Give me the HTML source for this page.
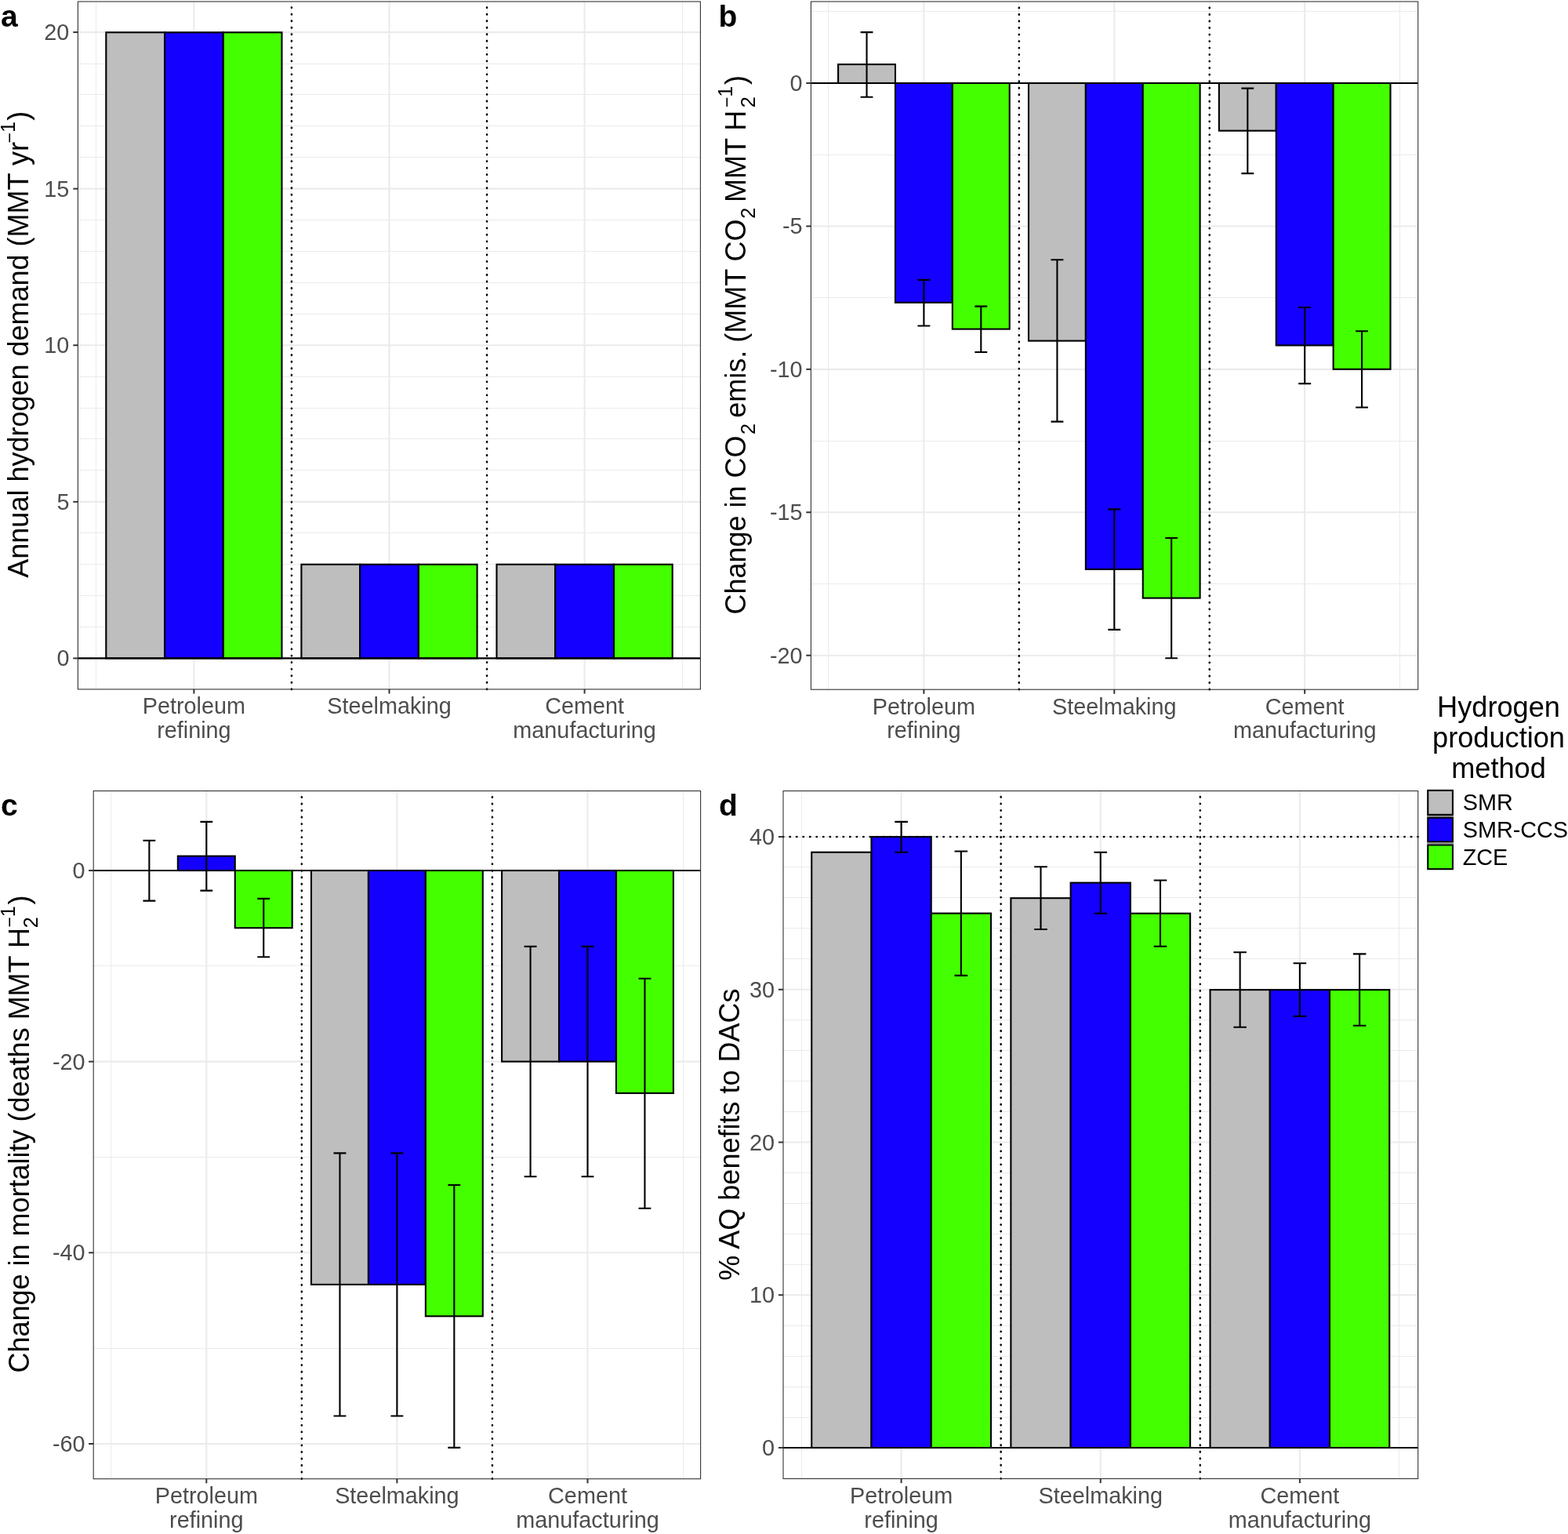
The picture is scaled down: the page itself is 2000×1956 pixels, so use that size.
<!DOCTYPE html><html><head><meta charset="utf-8"><title>Figure</title><style>html,body{margin:0;padding:0;background:#fff;}svg{display:block;}</style></head><body>
<svg width="2000" height="1956" viewBox="0 0 2000 1956" font-family="Liberation Sans, Arial, Helvetica, sans-serif">
<rect width="2000" height="1956" fill="#FFFFFF"/>
<g>
<rect x="99.4" y="2" width="794" height="876.9" fill="#FFFFFF"/>
<line x1="99.4" x2="893.4" y1="799.5" y2="799.5" stroke="#EBEBEB" stroke-width="1.05"/>
<line x1="99.4" x2="893.4" y1="759.5" y2="759.5" stroke="#EBEBEB" stroke-width="1.05"/>
<line x1="99.4" x2="893.4" y1="719.5" y2="719.5" stroke="#EBEBEB" stroke-width="1.05"/>
<line x1="99.4" x2="893.4" y1="679.5" y2="679.5" stroke="#EBEBEB" stroke-width="1.05"/>
<line x1="99.4" x2="893.4" y1="599.5" y2="599.5" stroke="#EBEBEB" stroke-width="1.05"/>
<line x1="99.4" x2="893.4" y1="559.5" y2="559.5" stroke="#EBEBEB" stroke-width="1.05"/>
<line x1="99.4" x2="893.4" y1="520.5" y2="520.5" stroke="#EBEBEB" stroke-width="1.05"/>
<line x1="99.4" x2="893.4" y1="480.5" y2="480.5" stroke="#EBEBEB" stroke-width="1.05"/>
<line x1="99.4" x2="893.4" y1="400.5" y2="400.5" stroke="#EBEBEB" stroke-width="1.05"/>
<line x1="99.4" x2="893.4" y1="360.5" y2="360.5" stroke="#EBEBEB" stroke-width="1.05"/>
<line x1="99.4" x2="893.4" y1="320.5" y2="320.5" stroke="#EBEBEB" stroke-width="1.05"/>
<line x1="99.4" x2="893.4" y1="280.5" y2="280.5" stroke="#EBEBEB" stroke-width="1.05"/>
<line x1="99.4" x2="893.4" y1="200.5" y2="200.5" stroke="#EBEBEB" stroke-width="1.05"/>
<line x1="99.4" x2="893.4" y1="160.5" y2="160.5" stroke="#EBEBEB" stroke-width="1.05"/>
<line x1="99.4" x2="893.4" y1="120.5" y2="120.5" stroke="#EBEBEB" stroke-width="1.05"/>
<line x1="99.4" x2="893.4" y1="81.5" y2="81.5" stroke="#EBEBEB" stroke-width="1.05"/>
<line x1="122.5" x2="122.5" y1="2" y2="878.9" stroke="#EBEBEB" stroke-width="1.05"/>
<line x1="371.5" x2="371.5" y1="2" y2="878.9" stroke="#EBEBEB" stroke-width="1.05"/>
<line x1="621.5" x2="621.5" y1="2" y2="878.9" stroke="#EBEBEB" stroke-width="1.05"/>
<line x1="870.5" x2="870.5" y1="2" y2="878.9" stroke="#EBEBEB" stroke-width="1.05"/>
<line x1="99.4" x2="893.4" y1="839.4" y2="839.4" stroke="#EBEBEB" stroke-width="2.1"/>
<line x1="99.4" x2="893.4" y1="639.83" y2="639.83" stroke="#EBEBEB" stroke-width="2.1"/>
<line x1="99.4" x2="893.4" y1="440.25" y2="440.25" stroke="#EBEBEB" stroke-width="2.1"/>
<line x1="99.4" x2="893.4" y1="240.67" y2="240.67" stroke="#EBEBEB" stroke-width="2.1"/>
<line x1="99.4" x2="893.4" y1="41.1" y2="41.1" stroke="#EBEBEB" stroke-width="2.1"/>
<line x1="247.4" x2="247.4" y1="2" y2="878.9" stroke="#EBEBEB" stroke-width="2.1"/>
<line x1="496.5" x2="496.5" y1="2" y2="878.9" stroke="#EBEBEB" stroke-width="2.1"/>
<line x1="745.6" x2="745.6" y1="2" y2="878.9" stroke="#EBEBEB" stroke-width="2.1"/>
<line x1="371.95" x2="371.95" y1="878.9" y2="2" stroke="#000" stroke-width="2.6" stroke-dasharray="0.3 8.22" stroke-linecap="round"/>
<line x1="621.05" x2="621.05" y1="878.9" y2="2" stroke="#000" stroke-width="2.6" stroke-dasharray="0.3 8.22" stroke-linecap="round"/>
<rect x="135.31" y="41.3" width="74.73" height="798.1" fill="#BEBEBE" stroke="#000" stroke-width="2.1"/>
<rect x="210.04" y="41.3" width="74.73" height="798.1" fill="#1400FF" stroke="#000" stroke-width="2.1"/>
<rect x="284.76" y="41.3" width="74.73" height="798.1" fill="#44FF00" stroke="#000" stroke-width="2.1"/>
<rect x="384.4" y="719.7" width="74.73" height="119.7" fill="#BEBEBE" stroke="#000" stroke-width="2.1"/>
<rect x="459.13" y="719.7" width="74.73" height="119.7" fill="#1400FF" stroke="#000" stroke-width="2.1"/>
<rect x="533.87" y="719.7" width="74.73" height="119.7" fill="#44FF00" stroke="#000" stroke-width="2.1"/>
<rect x="633.5" y="719.7" width="74.73" height="119.7" fill="#BEBEBE" stroke="#000" stroke-width="2.1"/>
<rect x="708.24" y="719.7" width="74.73" height="119.7" fill="#1400FF" stroke="#000" stroke-width="2.1"/>
<rect x="782.97" y="719.7" width="74.73" height="119.7" fill="#44FF00" stroke="#000" stroke-width="2.1"/>
<line x1="99.4" x2="893.4" y1="839.4" y2="839.4" stroke="#000" stroke-width="2.1"/>
<rect x="99.4" y="2" width="794" height="876.9" fill="none" stroke="#333333" stroke-width="1.1"/>
<line x1="93.3" x2="99.4" y1="839.4" y2="839.4" stroke="#333333" stroke-width="2"/>
<text x="88.4" y="849.4" text-anchor="end" font-size="28.8" fill="#4D4D4D">0</text>
<line x1="93.3" x2="99.4" y1="639.83" y2="639.83" stroke="#333333" stroke-width="2"/>
<text x="88.4" y="649.83" text-anchor="end" font-size="28.8" fill="#4D4D4D">5</text>
<line x1="93.3" x2="99.4" y1="440.25" y2="440.25" stroke="#333333" stroke-width="2"/>
<text x="88.4" y="450.25" text-anchor="end" font-size="28.8" fill="#4D4D4D">10</text>
<line x1="93.3" x2="99.4" y1="240.67" y2="240.67" stroke="#333333" stroke-width="2"/>
<text x="88.4" y="250.67" text-anchor="end" font-size="28.8" fill="#4D4D4D">15</text>
<line x1="93.3" x2="99.4" y1="41.1" y2="41.1" stroke="#333333" stroke-width="2"/>
<text x="88.4" y="51.1" text-anchor="end" font-size="28.8" fill="#4D4D4D">20</text>
<line x1="247.4" x2="247.4" y1="878.9" y2="884.5" stroke="#333333" stroke-width="2"/>
<text x="247.4" y="910.2" text-anchor="middle" font-size="28.8" fill="#4D4D4D">Petroleum</text>
<text x="247.4" y="941.1" text-anchor="middle" font-size="28.8" fill="#4D4D4D">refining</text>
<line x1="496.5" x2="496.5" y1="878.9" y2="884.5" stroke="#333333" stroke-width="2"/>
<text x="496.5" y="910.2" text-anchor="middle" font-size="28.8" fill="#4D4D4D">Steelmaking</text>
<line x1="745.6" x2="745.6" y1="878.9" y2="884.5" stroke="#333333" stroke-width="2"/>
<text x="745.6" y="910.2" text-anchor="middle" font-size="28.8" fill="#4D4D4D">Cement</text>
<text x="745.6" y="941.1" text-anchor="middle" font-size="28.8" fill="#4D4D4D">manufacturing</text>
</g>
<g>
<rect x="1034.4" y="2" width="774.3" height="877.2" fill="#FFFFFF"/>
<line x1="1034.4" x2="1808.7" y1="14.5" y2="14.5" stroke="#EBEBEB" stroke-width="1.05"/>
<line x1="1034.4" x2="1808.7" y1="197.5" y2="197.5" stroke="#EBEBEB" stroke-width="1.05"/>
<line x1="1034.4" x2="1808.7" y1="379.5" y2="379.5" stroke="#EBEBEB" stroke-width="1.05"/>
<line x1="1034.4" x2="1808.7" y1="562.5" y2="562.5" stroke="#EBEBEB" stroke-width="1.05"/>
<line x1="1034.4" x2="1808.7" y1="744.5" y2="744.5" stroke="#EBEBEB" stroke-width="1.05"/>
<line x1="1056.5" x2="1056.5" y1="2" y2="879.2" stroke="#EBEBEB" stroke-width="1.05"/>
<line x1="1299.5" x2="1299.5" y1="2" y2="879.2" stroke="#EBEBEB" stroke-width="1.05"/>
<line x1="1542.5" x2="1542.5" y1="2" y2="879.2" stroke="#EBEBEB" stroke-width="1.05"/>
<line x1="1785.5" x2="1785.5" y1="2" y2="879.2" stroke="#EBEBEB" stroke-width="1.05"/>
<line x1="1034.4" x2="1808.7" y1="106" y2="106" stroke="#EBEBEB" stroke-width="2.1"/>
<line x1="1034.4" x2="1808.7" y1="288.43" y2="288.43" stroke="#EBEBEB" stroke-width="2.1"/>
<line x1="1034.4" x2="1808.7" y1="470.85" y2="470.85" stroke="#EBEBEB" stroke-width="2.1"/>
<line x1="1034.4" x2="1808.7" y1="653.27" y2="653.27" stroke="#EBEBEB" stroke-width="2.1"/>
<line x1="1034.4" x2="1808.7" y1="835.7" y2="835.7" stroke="#EBEBEB" stroke-width="2.1"/>
<line x1="1178.4" x2="1178.4" y1="2" y2="879.2" stroke="#EBEBEB" stroke-width="2.1"/>
<line x1="1421.3" x2="1421.3" y1="2" y2="879.2" stroke="#EBEBEB" stroke-width="2.1"/>
<line x1="1664.2" x2="1664.2" y1="2" y2="879.2" stroke="#EBEBEB" stroke-width="2.1"/>
<line x1="1299.85" x2="1299.85" y1="879.2" y2="2" stroke="#000" stroke-width="2.6" stroke-dasharray="0.3 8.22" stroke-linecap="round"/>
<line x1="1542.75" x2="1542.75" y1="879.2" y2="2" stroke="#000" stroke-width="2.6" stroke-dasharray="0.3 8.22" stroke-linecap="round"/>
<rect x="1069.1" y="82.1" width="72.87" height="23.9" fill="#BEBEBE" stroke="#000" stroke-width="2.1"/>
<rect x="1141.97" y="106" width="72.87" height="279.8" fill="#1400FF" stroke="#000" stroke-width="2.1"/>
<rect x="1214.84" y="106" width="72.87" height="313.6" fill="#44FF00" stroke="#000" stroke-width="2.1"/>
<rect x="1312" y="106" width="72.87" height="328.6" fill="#BEBEBE" stroke="#000" stroke-width="2.1"/>
<rect x="1384.87" y="106" width="72.87" height="619.9" fill="#1400FF" stroke="#000" stroke-width="2.1"/>
<rect x="1457.74" y="106" width="72.87" height="656.6" fill="#44FF00" stroke="#000" stroke-width="2.1"/>
<rect x="1554.89" y="106" width="72.87" height="60.7" fill="#BEBEBE" stroke="#000" stroke-width="2.1"/>
<rect x="1627.77" y="106" width="72.87" height="334.4" fill="#1400FF" stroke="#000" stroke-width="2.1"/>
<rect x="1700.64" y="106" width="72.87" height="364.8" fill="#44FF00" stroke="#000" stroke-width="2.1"/>
<path d="M1097.6 41.1H1113.46M1105.53 41.1V123.7M1097.6 123.7H1113.46" stroke="#000" stroke-width="2.1" fill="none"/>
<path d="M1170.47 356.9H1186.33M1178.4 356.9V415.5M1170.47 415.5H1186.33" stroke="#000" stroke-width="2.1" fill="none"/>
<path d="M1243.34 390.6H1259.2M1251.27 390.6V449M1243.34 449H1259.2" stroke="#000" stroke-width="2.1" fill="none"/>
<path d="M1340.5 331.2H1356.36M1348.43 331.2V537.6M1340.5 537.6H1356.36" stroke="#000" stroke-width="2.1" fill="none"/>
<path d="M1413.37 649.4H1429.23M1421.3 649.4V802.9M1413.37 802.9H1429.23" stroke="#000" stroke-width="2.1" fill="none"/>
<path d="M1486.24 686H1502.1M1494.17 686V839.3M1486.24 839.3H1502.1" stroke="#000" stroke-width="2.1" fill="none"/>
<path d="M1583.4 112.6H1599.26M1591.33 112.6V221.1M1583.4 221.1H1599.26" stroke="#000" stroke-width="2.1" fill="none"/>
<path d="M1656.27 392H1672.13M1664.2 392V489.1M1656.27 489.1H1672.13" stroke="#000" stroke-width="2.1" fill="none"/>
<path d="M1729.14 422.3H1745M1737.07 422.3V519.5M1729.14 519.5H1745" stroke="#000" stroke-width="2.1" fill="none"/>
<line x1="1034.4" x2="1808.7" y1="106" y2="106" stroke="#000" stroke-width="2.1"/>
<rect x="1034.4" y="2" width="774.3" height="877.2" fill="none" stroke="#333333" stroke-width="1.1"/>
<line x1="1028.3" x2="1034.4" y1="106" y2="106" stroke="#333333" stroke-width="2"/>
<text x="1023.5" y="116" text-anchor="end" font-size="28.8" fill="#4D4D4D">0</text>
<line x1="1028.3" x2="1034.4" y1="288.43" y2="288.43" stroke="#333333" stroke-width="2"/>
<text x="1023.5" y="298.43" text-anchor="end" font-size="28.8" fill="#4D4D4D">-5</text>
<line x1="1028.3" x2="1034.4" y1="470.85" y2="470.85" stroke="#333333" stroke-width="2"/>
<text x="1023.5" y="480.85" text-anchor="end" font-size="28.8" fill="#4D4D4D">-10</text>
<line x1="1028.3" x2="1034.4" y1="653.27" y2="653.27" stroke="#333333" stroke-width="2"/>
<text x="1023.5" y="663.27" text-anchor="end" font-size="28.8" fill="#4D4D4D">-15</text>
<line x1="1028.3" x2="1034.4" y1="835.7" y2="835.7" stroke="#333333" stroke-width="2"/>
<text x="1023.5" y="845.7" text-anchor="end" font-size="28.8" fill="#4D4D4D">-20</text>
<line x1="1178.4" x2="1178.4" y1="879.2" y2="884.8" stroke="#333333" stroke-width="2"/>
<text x="1178.4" y="910.5" text-anchor="middle" font-size="28.8" fill="#4D4D4D">Petroleum</text>
<text x="1178.4" y="941.4" text-anchor="middle" font-size="28.8" fill="#4D4D4D">refining</text>
<line x1="1421.3" x2="1421.3" y1="879.2" y2="884.8" stroke="#333333" stroke-width="2"/>
<text x="1421.3" y="910.5" text-anchor="middle" font-size="28.8" fill="#4D4D4D">Steelmaking</text>
<line x1="1664.2" x2="1664.2" y1="879.2" y2="884.8" stroke="#333333" stroke-width="2"/>
<text x="1664.2" y="910.5" text-anchor="middle" font-size="28.8" fill="#4D4D4D">Cement</text>
<text x="1664.2" y="941.4" text-anchor="middle" font-size="28.8" fill="#4D4D4D">manufacturing</text>
</g>
<g>
<rect x="119.2" y="1008.5" width="774.4" height="877.2" fill="#FFFFFF"/>
<line x1="119.2" x2="893.6" y1="1231.5" y2="1231.5" stroke="#EBEBEB" stroke-width="1.05"/>
<line x1="119.2" x2="893.6" y1="1475.5" y2="1475.5" stroke="#EBEBEB" stroke-width="1.05"/>
<line x1="119.2" x2="893.6" y1="1719.5" y2="1719.5" stroke="#EBEBEB" stroke-width="1.05"/>
<line x1="141.5" x2="141.5" y1="1008.5" y2="1885.7" stroke="#EBEBEB" stroke-width="1.05"/>
<line x1="384.5" x2="384.5" y1="1008.5" y2="1885.7" stroke="#EBEBEB" stroke-width="1.05"/>
<line x1="627.5" x2="627.5" y1="1008.5" y2="1885.7" stroke="#EBEBEB" stroke-width="1.05"/>
<line x1="871.5" x2="871.5" y1="1008.5" y2="1885.7" stroke="#EBEBEB" stroke-width="1.05"/>
<line x1="119.2" x2="893.6" y1="1110" y2="1110" stroke="#EBEBEB" stroke-width="2.1"/>
<line x1="119.2" x2="893.6" y1="1353.66" y2="1353.66" stroke="#EBEBEB" stroke-width="2.1"/>
<line x1="119.2" x2="893.6" y1="1597.32" y2="1597.32" stroke="#EBEBEB" stroke-width="2.1"/>
<line x1="119.2" x2="893.6" y1="1840.98" y2="1840.98" stroke="#EBEBEB" stroke-width="2.1"/>
<line x1="263.3" x2="263.3" y1="1008.5" y2="1885.7" stroke="#EBEBEB" stroke-width="2.1"/>
<line x1="506.4" x2="506.4" y1="1008.5" y2="1885.7" stroke="#EBEBEB" stroke-width="2.1"/>
<line x1="749.5" x2="749.5" y1="1008.5" y2="1885.7" stroke="#EBEBEB" stroke-width="2.1"/>
<line x1="384.85" x2="384.85" y1="1885.7" y2="1008.5" stroke="#000" stroke-width="2.6" stroke-dasharray="0.3 8.22" stroke-linecap="round"/>
<line x1="627.95" x2="627.95" y1="1885.7" y2="1008.5" stroke="#000" stroke-width="2.6" stroke-dasharray="0.3 8.22" stroke-linecap="round"/>
<rect x="226.84" y="1091.6" width="72.93" height="18.4" fill="#1400FF" stroke="#000" stroke-width="2.1"/>
<rect x="299.77" y="1110" width="72.93" height="73.2" fill="#44FF00" stroke="#000" stroke-width="2.1"/>
<rect x="397" y="1110" width="72.93" height="527.9" fill="#BEBEBE" stroke="#000" stroke-width="2.1"/>
<rect x="469.94" y="1110" width="72.93" height="527.9" fill="#1400FF" stroke="#000" stroke-width="2.1"/>
<rect x="542.86" y="1110" width="72.93" height="568.3" fill="#44FF00" stroke="#000" stroke-width="2.1"/>
<rect x="640.11" y="1110" width="72.93" height="243.6" fill="#BEBEBE" stroke="#000" stroke-width="2.1"/>
<rect x="713.03" y="1110" width="72.93" height="243.6" fill="#1400FF" stroke="#000" stroke-width="2.1"/>
<rect x="785.96" y="1110" width="72.93" height="283.9" fill="#44FF00" stroke="#000" stroke-width="2.1"/>
<path d="M182.43 1071.7H198.31M190.37 1071.7V1148.6M182.43 1148.6H198.31" stroke="#000" stroke-width="2.1" fill="none"/>
<path d="M255.36 1047.9H271.24M263.3 1047.9V1135.6M255.36 1135.6H271.24" stroke="#000" stroke-width="2.1" fill="none"/>
<path d="M328.29 1145.9H344.17M336.23 1145.9V1220.2M328.29 1220.2H344.17" stroke="#000" stroke-width="2.1" fill="none"/>
<path d="M425.53 1470.4H441.41M433.47 1470.4V1805.5M425.53 1805.5H441.41" stroke="#000" stroke-width="2.1" fill="none"/>
<path d="M498.46 1470.4H514.34M506.4 1470.4V1805.5M498.46 1805.5H514.34" stroke="#000" stroke-width="2.1" fill="none"/>
<path d="M571.39 1511H587.27M579.33 1511V1845.9M571.39 1845.9H587.27" stroke="#000" stroke-width="2.1" fill="none"/>
<path d="M668.63 1206.9H684.51M676.57 1206.9V1500.2M668.63 1500.2H684.51" stroke="#000" stroke-width="2.1" fill="none"/>
<path d="M741.56 1206.9H757.44M749.5 1206.9V1500.2M741.56 1500.2H757.44" stroke="#000" stroke-width="2.1" fill="none"/>
<path d="M814.49 1247.8H830.37M822.43 1247.8V1540.7M814.49 1540.7H830.37" stroke="#000" stroke-width="2.1" fill="none"/>
<line x1="119.2" x2="893.6" y1="1110" y2="1110" stroke="#000" stroke-width="2.1"/>
<rect x="119.2" y="1008.5" width="774.4" height="877.2" fill="none" stroke="#333333" stroke-width="1.1"/>
<line x1="113.1" x2="119.2" y1="1110" y2="1110" stroke="#333333" stroke-width="2"/>
<text x="108.6" y="1120" text-anchor="end" font-size="28.8" fill="#4D4D4D">0</text>
<line x1="113.1" x2="119.2" y1="1353.66" y2="1353.66" stroke="#333333" stroke-width="2"/>
<text x="108.6" y="1363.66" text-anchor="end" font-size="28.8" fill="#4D4D4D">-20</text>
<line x1="113.1" x2="119.2" y1="1597.32" y2="1597.32" stroke="#333333" stroke-width="2"/>
<text x="108.6" y="1607.32" text-anchor="end" font-size="28.8" fill="#4D4D4D">-40</text>
<line x1="113.1" x2="119.2" y1="1840.98" y2="1840.98" stroke="#333333" stroke-width="2"/>
<text x="108.6" y="1850.98" text-anchor="end" font-size="28.8" fill="#4D4D4D">-60</text>
<line x1="263.3" x2="263.3" y1="1885.7" y2="1891.3" stroke="#333333" stroke-width="2"/>
<text x="263.3" y="1917" text-anchor="middle" font-size="28.8" fill="#4D4D4D">Petroleum</text>
<text x="263.3" y="1947.9" text-anchor="middle" font-size="28.8" fill="#4D4D4D">refining</text>
<line x1="506.4" x2="506.4" y1="1885.7" y2="1891.3" stroke="#333333" stroke-width="2"/>
<text x="506.4" y="1917" text-anchor="middle" font-size="28.8" fill="#4D4D4D">Steelmaking</text>
<line x1="749.5" x2="749.5" y1="1885.7" y2="1891.3" stroke="#333333" stroke-width="2"/>
<text x="749.5" y="1917" text-anchor="middle" font-size="28.8" fill="#4D4D4D">Cement</text>
<text x="749.5" y="1947.9" text-anchor="middle" font-size="28.8" fill="#4D4D4D">manufacturing</text>
</g>
<g>
<rect x="999" y="1008.5" width="809.7" height="877" fill="#FFFFFF"/>
<line x1="999" x2="1808.7" y1="1807.5" y2="1807.5" stroke="#EBEBEB" stroke-width="1.05"/>
<line x1="999" x2="1808.7" y1="1768.5" y2="1768.5" stroke="#EBEBEB" stroke-width="1.05"/>
<line x1="999" x2="1808.7" y1="1729.5" y2="1729.5" stroke="#EBEBEB" stroke-width="1.05"/>
<line x1="999" x2="1808.7" y1="1690.5" y2="1690.5" stroke="#EBEBEB" stroke-width="1.05"/>
<line x1="999" x2="1808.7" y1="1612.5" y2="1612.5" stroke="#EBEBEB" stroke-width="1.05"/>
<line x1="999" x2="1808.7" y1="1573.5" y2="1573.5" stroke="#EBEBEB" stroke-width="1.05"/>
<line x1="999" x2="1808.7" y1="1534.5" y2="1534.5" stroke="#EBEBEB" stroke-width="1.05"/>
<line x1="999" x2="1808.7" y1="1495.5" y2="1495.5" stroke="#EBEBEB" stroke-width="1.05"/>
<line x1="999" x2="1808.7" y1="1417.5" y2="1417.5" stroke="#EBEBEB" stroke-width="1.05"/>
<line x1="999" x2="1808.7" y1="1378.5" y2="1378.5" stroke="#EBEBEB" stroke-width="1.05"/>
<line x1="999" x2="1808.7" y1="1339.5" y2="1339.5" stroke="#EBEBEB" stroke-width="1.05"/>
<line x1="999" x2="1808.7" y1="1300.5" y2="1300.5" stroke="#EBEBEB" stroke-width="1.05"/>
<line x1="999" x2="1808.7" y1="1222.5" y2="1222.5" stroke="#EBEBEB" stroke-width="1.05"/>
<line x1="999" x2="1808.7" y1="1183.5" y2="1183.5" stroke="#EBEBEB" stroke-width="1.05"/>
<line x1="999" x2="1808.7" y1="1144.5" y2="1144.5" stroke="#EBEBEB" stroke-width="1.05"/>
<line x1="999" x2="1808.7" y1="1105.5" y2="1105.5" stroke="#EBEBEB" stroke-width="1.05"/>
<line x1="1022.5" x2="1022.5" y1="1008.5" y2="1885.5" stroke="#EBEBEB" stroke-width="1.05"/>
<line x1="1276.5" x2="1276.5" y1="1008.5" y2="1885.5" stroke="#EBEBEB" stroke-width="1.05"/>
<line x1="1530.5" x2="1530.5" y1="1008.5" y2="1885.5" stroke="#EBEBEB" stroke-width="1.05"/>
<line x1="1784.5" x2="1784.5" y1="1008.5" y2="1885.5" stroke="#EBEBEB" stroke-width="1.05"/>
<line x1="999" x2="1808.7" y1="1846" y2="1846" stroke="#EBEBEB" stroke-width="2.1"/>
<line x1="999" x2="1808.7" y1="1651.25" y2="1651.25" stroke="#EBEBEB" stroke-width="2.1"/>
<line x1="999" x2="1808.7" y1="1456.5" y2="1456.5" stroke="#EBEBEB" stroke-width="2.1"/>
<line x1="999" x2="1808.7" y1="1261.75" y2="1261.75" stroke="#EBEBEB" stroke-width="2.1"/>
<line x1="999" x2="1808.7" y1="1067" y2="1067" stroke="#EBEBEB" stroke-width="2.1"/>
<line x1="1149.6" x2="1149.6" y1="1008.5" y2="1885.5" stroke="#EBEBEB" stroke-width="2.1"/>
<line x1="1403.75" x2="1403.75" y1="1008.5" y2="1885.5" stroke="#EBEBEB" stroke-width="2.1"/>
<line x1="1657.9" x2="1657.9" y1="1008.5" y2="1885.5" stroke="#EBEBEB" stroke-width="2.1"/>
<line x1="1276.67" x2="1276.67" y1="1885.5" y2="1008.5" stroke="#000" stroke-width="2.6" stroke-dasharray="0.3 8.22" stroke-linecap="round"/>
<line x1="1530.82" x2="1530.82" y1="1885.5" y2="1008.5" stroke="#000" stroke-width="2.6" stroke-dasharray="0.3 8.22" stroke-linecap="round"/>
<line x1="999" x2="1808.7" y1="1067" y2="1067" stroke="#000" stroke-width="2.6" stroke-dasharray="0.3 8.22" stroke-linecap="round"/>
<rect x="1035.23" y="1086.7" width="76.24" height="759.3" fill="#BEBEBE" stroke="#000" stroke-width="2.1"/>
<rect x="1111.48" y="1067" width="76.24" height="779" fill="#1400FF" stroke="#000" stroke-width="2.1"/>
<rect x="1187.72" y="1164.6" width="76.24" height="681.4" fill="#44FF00" stroke="#000" stroke-width="2.1"/>
<rect x="1289.38" y="1145.2" width="76.24" height="700.8" fill="#BEBEBE" stroke="#000" stroke-width="2.1"/>
<rect x="1365.63" y="1125.6" width="76.24" height="720.4" fill="#1400FF" stroke="#000" stroke-width="2.1"/>
<rect x="1441.87" y="1164.7" width="76.24" height="681.3" fill="#44FF00" stroke="#000" stroke-width="2.1"/>
<rect x="1543.53" y="1262.1" width="76.24" height="583.9" fill="#BEBEBE" stroke="#000" stroke-width="2.1"/>
<rect x="1619.78" y="1262.1" width="76.24" height="583.9" fill="#1400FF" stroke="#000" stroke-width="2.1"/>
<rect x="1696.02" y="1262.1" width="76.24" height="583.9" fill="#44FF00" stroke="#000" stroke-width="2.1"/>
<path d="M1141.3 1047.9H1157.9M1149.6 1047.9V1086.7M1141.3 1086.7H1157.9" stroke="#000" stroke-width="2.1" fill="none"/>
<path d="M1217.54 1085.5H1234.15M1225.84 1085.5V1243.9M1217.54 1243.9H1234.15" stroke="#000" stroke-width="2.1" fill="none"/>
<path d="M1319.2 1105.2H1335.81M1327.51 1105.2V1185M1319.2 1185H1335.81" stroke="#000" stroke-width="2.1" fill="none"/>
<path d="M1395.45 1086.7H1412.05M1403.75 1086.7V1164.7M1395.45 1164.7H1412.05" stroke="#000" stroke-width="2.1" fill="none"/>
<path d="M1471.69 1122.5H1488.3M1479.99 1122.5V1206.8M1471.69 1206.8H1488.3" stroke="#000" stroke-width="2.1" fill="none"/>
<path d="M1573.35 1214.3H1589.96M1581.65 1214.3V1309.8M1573.35 1309.8H1589.96" stroke="#000" stroke-width="2.1" fill="none"/>
<path d="M1649.6 1228.3H1666.2M1657.9 1228.3V1295.9M1649.6 1295.9H1666.2" stroke="#000" stroke-width="2.1" fill="none"/>
<path d="M1725.84 1216.4H1742.45M1734.14 1216.4V1307.8M1725.84 1307.8H1742.45" stroke="#000" stroke-width="2.1" fill="none"/>
<line x1="999" x2="1808.7" y1="1846" y2="1846" stroke="#000" stroke-width="2.1"/>
<rect x="999" y="1008.5" width="809.7" height="877" fill="none" stroke="#333333" stroke-width="1.1"/>
<line x1="992.9" x2="999" y1="1846" y2="1846" stroke="#333333" stroke-width="2"/>
<text x="988" y="1856" text-anchor="end" font-size="28.8" fill="#4D4D4D">0</text>
<line x1="992.9" x2="999" y1="1651.25" y2="1651.25" stroke="#333333" stroke-width="2"/>
<text x="988" y="1661.25" text-anchor="end" font-size="28.8" fill="#4D4D4D">10</text>
<line x1="992.9" x2="999" y1="1456.5" y2="1456.5" stroke="#333333" stroke-width="2"/>
<text x="988" y="1466.5" text-anchor="end" font-size="28.8" fill="#4D4D4D">20</text>
<line x1="992.9" x2="999" y1="1261.75" y2="1261.75" stroke="#333333" stroke-width="2"/>
<text x="988" y="1271.75" text-anchor="end" font-size="28.8" fill="#4D4D4D">30</text>
<line x1="992.9" x2="999" y1="1067" y2="1067" stroke="#333333" stroke-width="2"/>
<text x="988" y="1077" text-anchor="end" font-size="28.8" fill="#4D4D4D">40</text>
<line x1="1149.6" x2="1149.6" y1="1885.5" y2="1891.1" stroke="#333333" stroke-width="2"/>
<text x="1149.6" y="1916.8" text-anchor="middle" font-size="28.8" fill="#4D4D4D">Petroleum</text>
<text x="1149.6" y="1947.7" text-anchor="middle" font-size="28.8" fill="#4D4D4D">refining</text>
<line x1="1403.75" x2="1403.75" y1="1885.5" y2="1891.1" stroke="#333333" stroke-width="2"/>
<text x="1403.75" y="1916.8" text-anchor="middle" font-size="28.8" fill="#4D4D4D">Steelmaking</text>
<line x1="1657.9" x2="1657.9" y1="1885.5" y2="1891.1" stroke="#333333" stroke-width="2"/>
<text x="1657.9" y="1916.8" text-anchor="middle" font-size="28.8" fill="#4D4D4D">Cement</text>
<text x="1657.9" y="1947.7" text-anchor="middle" font-size="28.8" fill="#4D4D4D">manufacturing</text>
</g>
<text transform="translate(36.4 736.7) rotate(-90)" font-size="36" fill="#000">Annual hydrogen demand (MMT yr</text>
<text transform="translate(20.1 182.5) rotate(-90)" font-size="23" fill="#000">−</text>
<text transform="translate(18.6 169.1) rotate(-90)" font-size="25.2" fill="#000">1</text>
<text transform="translate(36.4 153.8) rotate(-90)" font-size="36" fill="#000">)</text>
<text transform="translate(951.3 783.6) rotate(-90)" font-size="36" fill="#000">Change in CO</text>
<text transform="translate(962.8 554.1) rotate(-90)" font-size="25.2" fill="#000">2</text>
<text transform="translate(951.3 532.8) rotate(-90)" font-size="36" fill="#000">emis. (MMT CO</text>
<text transform="translate(962.8 278.7) rotate(-90)" font-size="25.2" fill="#000">2</text>
<text transform="translate(951.3 258.1) rotate(-90)" font-size="36" fill="#000">MMT H</text>
<text transform="translate(962.8 137.2) rotate(-90)" font-size="25.2" fill="#000">2</text>
<text transform="translate(935 137) rotate(-90)" font-size="23" fill="#000">−</text>
<text transform="translate(933.5 123.7) rotate(-90)" font-size="25.2" fill="#000">1</text>
<text transform="translate(951.3 107.9) rotate(-90)" font-size="36" fill="#000">)</text>
<text transform="translate(36.5 1750.6) rotate(-90)" font-size="36" fill="#000">Change in mortality (deaths MMT H</text>
<text transform="translate(48 1183.2) rotate(-90)" font-size="25.2" fill="#000">2</text>
<text transform="translate(20.2 1182.6) rotate(-90)" font-size="23" fill="#000">−</text>
<text transform="translate(18.7 1169.3) rotate(-90)" font-size="25.2" fill="#000">1</text>
<text transform="translate(36.5 1153.6) rotate(-90)" font-size="36" fill="#000">)</text>
<text transform="translate(943.3 1632.7) rotate(-90)" font-size="36" fill="#000">% AQ benefits to DACs</text>
<text x="1" y="33.5" font-size="39" font-weight="bold" fill="#000">a</text>
<text x="916.5" y="33.5" font-size="39" font-weight="bold" fill="#000">b</text>
<text x="1" y="1040.3" font-size="39" font-weight="bold" fill="#000">c</text>
<text x="916.9" y="1040" font-size="39" font-weight="bold" fill="#000">d</text>
<text x="1911.5" y="913.9" text-anchor="middle" font-size="36.2" fill="#000">Hydrogen</text>
<text x="1911.5" y="952.9" text-anchor="middle" font-size="36.2" fill="#000">production</text>
<text x="1911.5" y="991.8" text-anchor="middle" font-size="36.2" fill="#000">method</text>
<line x1="1820.2" x2="1854" y1="1040.75" y2="1040.75" stroke="#8C8C8C" stroke-width="1.6"/>
<line x1="1820.2" x2="1854" y1="1075.5" y2="1075.5" stroke="#8C8C8C" stroke-width="1.6"/>
<rect x="1821.25" y="1007.85" width="31.7" height="31" fill="#BEBEBE" stroke="#000" stroke-width="2.1"/>
<text x="1865.7" y="1033.4" font-size="28.8" fill="#000">SMR</text>
<rect x="1821.25" y="1042.65" width="31.7" height="30.7" fill="#1400FF" stroke="#000" stroke-width="2.1"/>
<text x="1865.7" y="1068.3" font-size="28.8" fill="#000">SMR-CCS</text>
<rect x="1821.25" y="1077.45" width="31.7" height="30.7" fill="#44FF00" stroke="#000" stroke-width="2.1"/>
<text x="1865.7" y="1103.1" font-size="28.8" fill="#000">ZCE</text>
</svg></body></html>
